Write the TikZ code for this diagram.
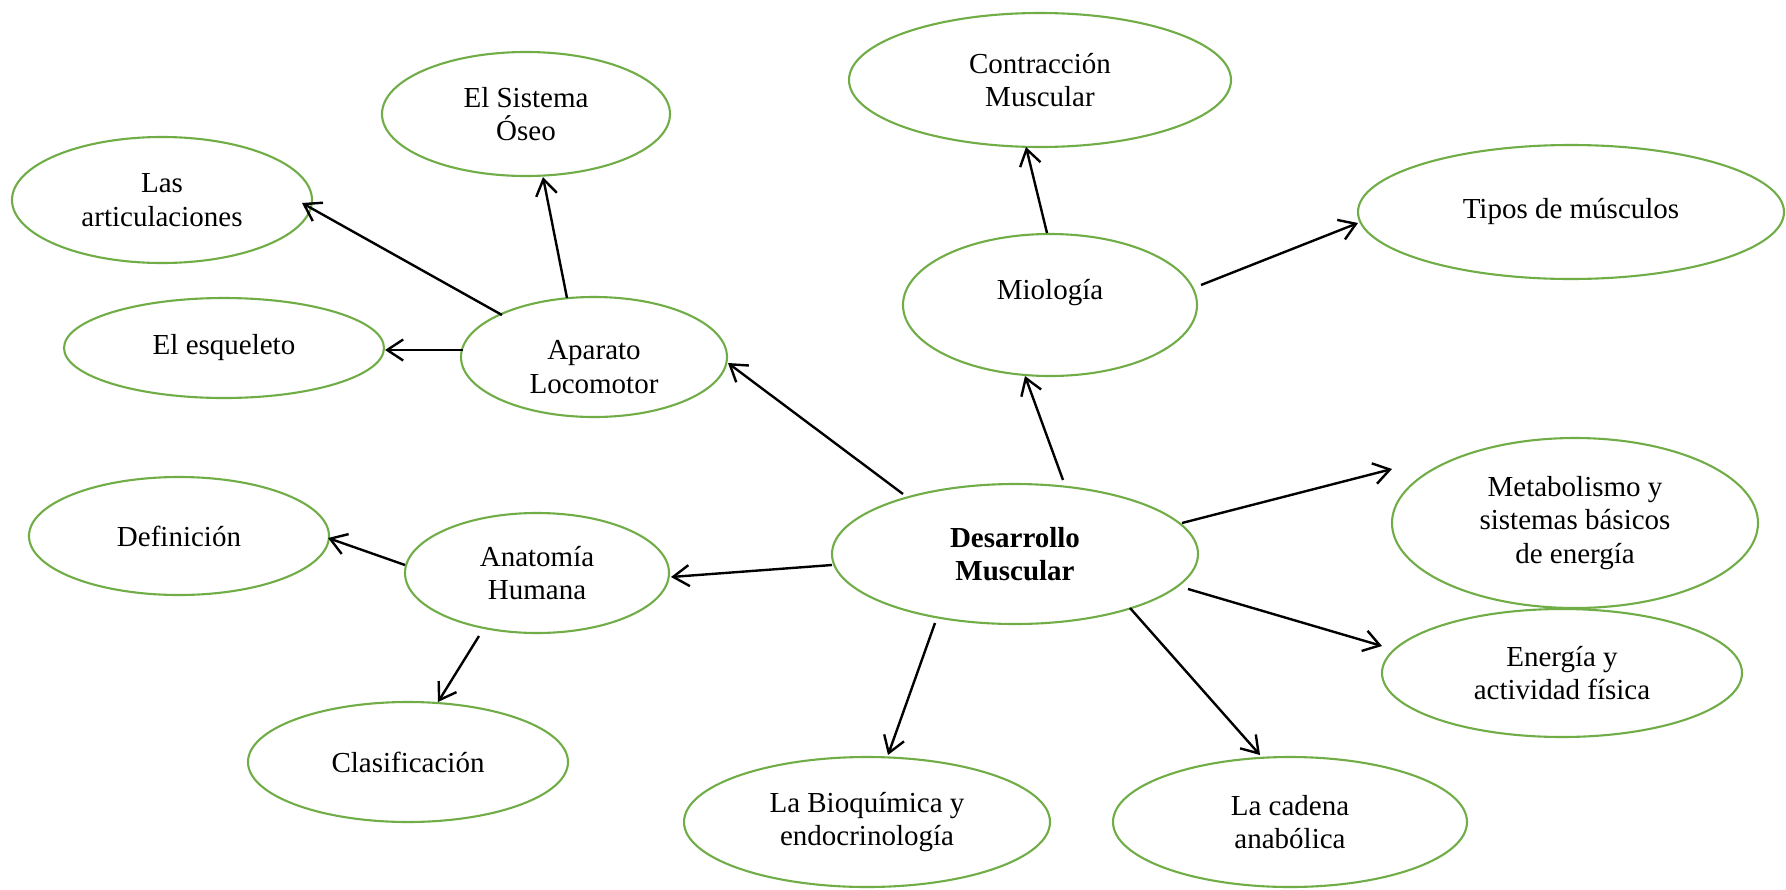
\documentclass[tikz,border=0pt]{standalone}
\usepackage{fontspec}
\setmainfont{Liberation Serif}
\usetikzlibrary{shapes.geometric,arrows.meta}
\definecolor{grn}{RGB}{112,173,71}
\tikzset{
  ell/.style 2 args={ellipse, draw=grn, line width=2.1pt, minimum width=#1, minimum height=#2,
    inner sep=0pt, align=center, font=\fontsize{29pt}{33.5pt}\selectfont},
  lbl/.style={align=center, inner sep=0pt, font=\fontsize{29pt}{33.5pt}\selectfont},
  conn/.style={line width=2.4pt, -{Straight Barb[length=16pt,width=21pt]}}
}
\newcommand{\at}[3]{([shift={(#2pt,#3pt)}]#1.center)}
\begin{document}
\begin{tikzpicture}[x=1pt,y=-1pt]
\fill[white] (0,0) rectangle (1786,889);
\useasboundingbox (0,0) rectangle (1786,889);

\node[ell={366pt}{140pt}] (dm) at (1015,554) {\textbf{Desarrollo}\\\textbf{Muscular}};
\node[ell={266pt}{120pt}, label={[lbl,yshift=-10pt]center:Aparato\\Locomotor}] (ap) at (594,357) {};
\node[ell={288pt}{124pt}] (so) at (526,114) {El Sistema\\Óseo};
\node[ell={300pt}{126pt}] (ar) at (162,200) {Las\\articulaciones};
\node[ell={320pt}{100pt}] (es) at (224,348) {El esqueleto};
\node[ell={294pt}{142pt}, label={[lbl,yshift=12pt]center:Miología}] (mi) at (1050,305) {};
\node[ell={382pt}{134pt}] (cm) at (1040,80) {Contracción\\Muscular};
\node[ell={426pt}{134pt}] (tm) at (1571,212) {Tipos de músculos};
\node[ell={366pt}{170pt}] (me) at (1575,523) {Metabolismo y\\sistemas básicos\\de energía};
\node[ell={360pt}{128pt}] (en) at (1562,673) {Energía y\\actividad física};
\node[ell={354pt}{130pt}] (ca) at (1290,822) {La cadena\\anabólica};
\node[ell={366pt}{130pt}] (bq) at (867,822) {La Bioquímica y\\endocrinología};
\node[ell={264pt}{120pt}] (an) at (537,573) {Anatomía\\Humana};
\node[ell={300pt}{118pt}] (de) at (179,536) {Definición};
\node[ell={320pt}{120pt}] (cl) at (408,762) {Clasificación};

\draw[conn] \at{dm}{-112}{60} -- \at{ap}{134}{-6};
\draw[conn] \at{dm}{48}{74} -- \at{mi}{-25}{-71};
\draw[conn] \at{mi}{-3}{72} -- \at{cm}{-14}{-67};
\draw[conn] \at{mi}{151}{20} -- \at{tm}{-213}{-11};
\draw[conn] \at{dm}{167}{31} -- \at{me}{-183}{54};
\draw[conn] \at{dm}{173}{-35} -- \at{en}{-180}{27};
\draw[conn] \at{dm}{115}{-54} -- \at{ca}{-30}{67};
\draw[conn] \at{dm}{-80}{-69} -- \at{bq}{21}{67};
\draw[conn] \at{dm}{-183}{-11} -- \at{an}{134}{-4};
\draw[conn] \at{an}{-132}{8} -- \at{de}{149}{-2};
\draw[conn] \at{an}{-58}{-63} -- \at{cl}{30}{60};
\draw[conn] \at{ap}{-131}{7} -- \at{es}{161}{-2};
\draw[conn] \at{ap}{-92}{42} -- \at{ar}{140}{-3};
\draw[conn] \at{ap}{-27}{59} -- \at{so}{17}{-63};
\end{tikzpicture}
\end{document}
